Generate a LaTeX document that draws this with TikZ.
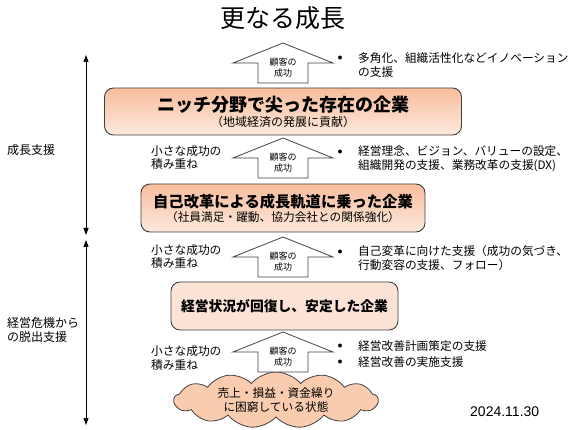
\documentclass[tikz,border=0pt]{standalone}
\usepackage{fontspec}
\setmainfont{Noto Sans CJK JP}
\newfontfamily\datefont{Liberation Sans}
\usepackage{tikz}
\usetikzlibrary{arrows.meta,shapes.symbols}

\definecolor{boxline}{HTML}{404040}
\definecolor{peachtop}{HTML}{F8BD9C}
\definecolor{peachbot}{HTML}{FDE9DD}
\definecolor{peachflat}{HTML}{FBE4D6}
\definecolor{cloudfill}{HTML}{F9CCB0}

\tikzset{
  axisline/.style={{Triangle[width=5pt,length=7pt]}-{Triangle[width=5pt,length=7pt]},line width=0.9pt,black},
  firmbox/.style={draw=boxline,line width=0.9pt,rounded corners=9pt,
    top color=peachtop,bottom color=peachbot,minimum height=47pt,inner sep=0pt},
  firmflat/.style={firmbox,fill=peachflat,top color=peachflat,bottom color=peachflat},
  firmtitle/.style={inner sep=0pt,font=\bfseries\fontsize{#1}{#1}\selectfont},
  firmsub/.style={inner sep=0pt,font=\fontsize{11.7}{12}\selectfont},
  successarrow/.style={draw=boxline,fill=white,line width=0.8pt,line join=miter},
  arrowtext/.style={inner sep=0pt,align=center,font=\fontsize{9}{11}\selectfont},
  sidetext/.style={inner sep=0pt,anchor=west,align=left,font=\fontsize{11.7}{13.5}\selectfont},
  dotmark/.style={inner sep=0pt,font=\fontsize{10}{10}\selectfont}
}

\begin{document}
\begin{tikzpicture}[x=1pt,y=-1pt]
  \useasboundingbox (0,0) rectangle (581,430);

  % Title
  \node[inner sep=0pt,font=\fontsize{25}{28}\selectfont] (title) at (283,18) {更なる成長};

  % Stage axis
  \coordinate (growtop) at (86,55);
  \coordinate (growbot) at (86,235);
  \coordinate (rescuetop) at (86,240);
  \coordinate (rescuebot) at (86,425);
  \draw[axisline] (growbot) -- (growtop);
  \draw[axisline] (rescuetop) -- (rescuebot);

  % Axis labels
  \node[sidetext,font=\fontsize{12}{14}\selectfont] (growlbl) at (7,150) {成長支援};
  \node[sidetext,font=\fontsize{12}{14}\selectfont] (rescuelbl) at (7,330) {経営危機から\\の脱出支援};

  % Company stages
  \node[firmbox,minimum width=357pt] (niche) at (283,111.5) {};
  \node[firmtitle=18] (nichetitle) at (283,105) {ニッチ分野で尖った存在の企業};
  \node[firmsub,font=\fontsize{12}{12}\selectfont] (nichesub) at (283,122) {（地域経済の発展に貢献）};

  \node[firmbox,minimum width=284pt,minimum height=48pt] (reform) at (283,208) {};
  \node[firmtitle=15.3] (reformtitle) at (283,202) {自己改革による成長軌道に乗った企業};
  \node[firmsub] (reformsub) at (283,217.5) {（社員満足・躍動、協力会社との関係強化）};

  \node[firmflat,minimum width=227pt,minimum height=48pt] (stable) at (284.5,306) {};
  \node[firmtitle=13.8] (stabletitle) at (stable.center) {経営状況が回復し、安定した企業};

  % Starting point
  \node[cloud,cloud puffs=13,cloud puff arc=100,cloud ignores aspect,
    minimum width=204pt,minimum height=56pt,draw=boxline,line width=0.8pt,
    fill=cloudfill] (trouble) at (276,400) {};
  \node[sidetext,anchor=center,align=center] (troubletext) at (trouble.center)
    {売上・損益・資金繰り\\に困窮している状態};

  % Customer success arrows
  \foreach \ty/\nm in {43/one,138/two,237/three,332/four}{
    \draw[successarrow] (283,\ty) -- ++(50,20) -- ++(-25,0) -- ++(0,20)
      -- ++(-50,0) -- ++(0,-20) -- ++(-25,0) -- cycle;
    \node[arrowtext] (succ\nm) at (283,\ty+24.5) {顧客の\\成功};
  }

  % Small wins, left of the arrows
  \node[sidetext] (smalltwo) at (151,157.5) {小さな成功の\\積み重ね};
  \node[sidetext] (smallthree) at (151,256.5) {小さな成功の\\積み重ね};
  \node[sidetext] (smallfour) at (151,358) {小さな成功の\\積み重ね};

  % Support items, right of the arrows
  \node[dotmark] (dotone) at (340,58) {$\bullet$};
  \node[sidetext] (supone) at (358,65) {多角化、組織活性化などイノベーション\\の支援};
  \node[dotmark] (dottwo) at (340,152) {$\bullet$};
  \node[sidetext] (suptwo) at (358,158.5) {経営理念、ビジョン、バリューの設定、\\組織開発の支援、業務改革の支援(DX)};
  \node[dotmark] (dotthree) at (340,252) {$\bullet$};
  \node[sidetext] (supthree) at (358,258) {自己変革に向けた支援（成功の気づき、\\行動変容の支援、フォロー）};
  \node[dotmark] (dotfoura) at (340,346) {$\bullet$};
  \node[sidetext] (supfoura) at (358,346) {経営改善計画策定の支援};
  \node[dotmark] (dotfourb) at (340,362) {$\bullet$};
  \node[sidetext] (supfourb) at (358,362) {経営改善の実施支援};

  % Date
  \node[inner sep=0pt,anchor=west,font=\datefont\fontsize{14}{16}\selectfont] (date) at (470,412) {2024.11.30};

\end{tikzpicture}
\end{document}
